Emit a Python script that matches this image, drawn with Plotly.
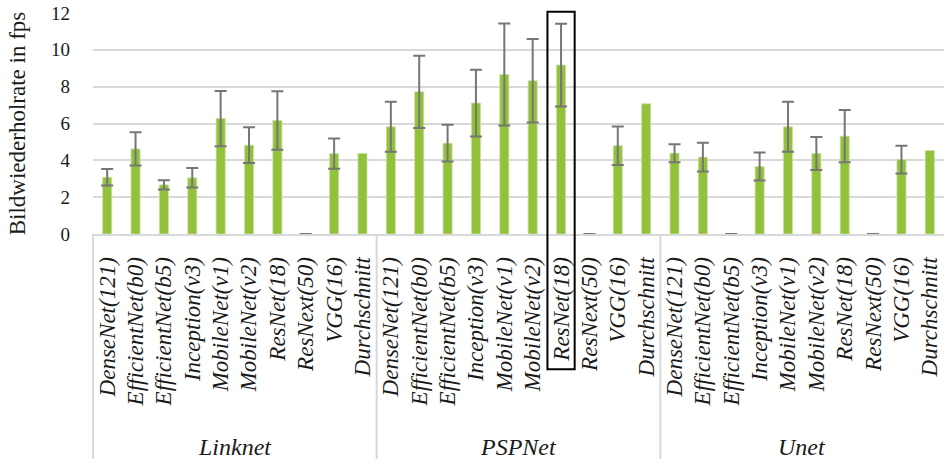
import plotly.graph_objects as go

groups = ["Linknet", "PSPNet", "Unet"]
models = ["DenseNet(121)", "EfficientNet(b0)", "EfficientNet(b5)", "Inception(v3)",
          "MobileNet(v1)", "MobileNet(v2)", "ResNet(18)", "ResNext(50)", "VGG(16)",
          "Durchschnitt"]

fps_linknet = [3.08, 4.62, 2.67, 3.05, 6.27, 4.82, 6.16, 0.0, 4.36, 4.37]
err_linknet = [0.45, 0.90, 0.25, 0.53, 1.50, 0.97, 1.59, 0.0, 0.82, None]
fps_pspnet = [5.82, 7.72, 4.93, 7.11, 8.66, 8.32, 9.17, 0.0, 4.79, 7.07]
err_pspnet = [1.36, 1.96, 1.00, 1.81, 2.77, 2.27, 2.25, 0.0, 1.05, None]
fps_unet = [4.39, 4.17, 0.0, 3.66, 5.82, 4.37, 5.31, 0.0, 4.04, 4.53]
err_unet = [0.49, 0.78, 0.0, 0.76, 1.36, 0.90, 1.42, 0.0, 0.75, None]

y_ticks = [0, 2, 4, 6, 8, 10, 12]
highlight = ("PSPNet", "ResNet(18)")

x_groups, x_models, values, errors = [], [], [], []
for g, v, e in zip(groups, [fps_linknet, fps_pspnet, fps_unet], [err_linknet, err_pspnet, err_unet]):
    x_groups += [g] * len(models)
    x_models += models
    values += v
    # no error bar where there is no value (plotly skips non-numeric entries)
    errors += ["NaN" if val is None else val for val in e]
n = len(x_models)
xpos = list(range(n))

FONT = "Liberation Serif"
GRID = "#d9d9d9"
fig = go.Figure()
fig.add_trace(go.Bar(
    x=xpos, y=values,
    marker=dict(color="#92C13B", line=dict(color="#C9E0A4", width=0.8)),
    width=0.32,
    error_y=dict(type="data", array=errors, visible=True, color="#767676",
                 thickness=2, width=6),
    showlegend=False,
))

# group dividers and group labels
m = len(models)
for gi, g in enumerate(groups):
    start = gi * m
    fig.add_shape(type="line", xref="paper", yref="paper",
                  x0=start / n, x1=start / n, y0=0, y1=-1.03,
                  line=dict(color=GRID, width=2))
    fig.add_annotation(x=start + (m - 1) / 2, xref="x", y=-0.965, yref="paper",
                       text=g, showarrow=False, yanchor="middle",
                       font=dict(family=FONT, size=24, style="italic", color="#1a1a1a"))

idx = [i for i in range(n) if (x_groups[i], x_models[i]) == highlight][0]
fig.add_shape(type="rect", xref="paper", yref="paper",
              x0=(idx + 0.02) / n, x1=(idx + 0.98) / n, y0=-0.612, y1=1.006,
              line=dict(color="black", width=2), fillcolor="rgba(0,0,0,0)")

fig.update_layout(
    width=944, height=459,
    margin=dict(l=93, r=0, t=13, b=225),
    paper_bgcolor="white", plot_bgcolor="white",
    font=dict(family=FONT, color="#1a1a1a"),
)
fig.update_xaxes(
    automargin=False,
    range=[-0.5, n - 0.5],
    tickvals=xpos, ticktext=x_models,
    tickangle=-90,
    tickfont=dict(family=FONT, size=23, style="italic"),
    showline=True, linecolor=GRID, linewidth=2,
    showgrid=False, zeroline=False,
    ticklabelstandoff=12,
)
fig.update_yaxes(
    automargin=False,
    range=[0, 12], tickvals=y_ticks,
    tickfont=dict(family=FONT, size=19),
    showgrid=True, gridcolor=GRID, gridwidth=1.5,
    zeroline=False, showline=False,
    ticklabelstandoff=22,
    title=dict(text="Bildwiederholrate in fps", font=dict(family=FONT, size=23), standoff=18),
)
fig.write_html("out.html", config={"displayModeBar": False},
               post_script="document.body.style.margin='0';document.body.style.overflow='hidden';")
